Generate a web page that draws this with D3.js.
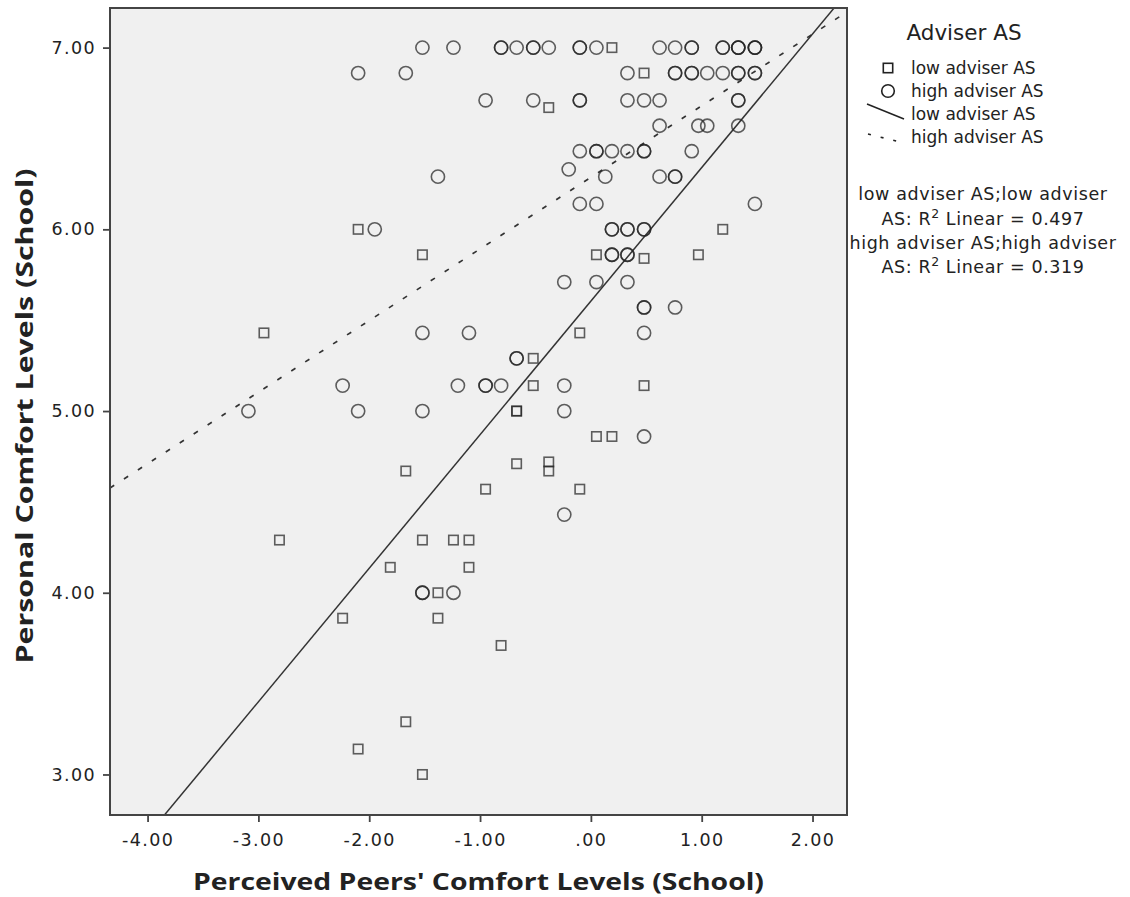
<!DOCTYPE html>
<html>
<head>
<meta charset="utf-8">
<script src="https://cdn.jsdelivr.net/npm/d3@7/dist/d3.min.js"></script>
<style>
  html, body { margin: 0; padding: 0; background: #ffffff; }
  svg { display: block; }
  text { font-family: "DejaVu Sans", Verdana, sans-serif; fill: #222; }
</style>
</head>
<body>
<svg id="chart" width="1130" height="897"></svg>
<script>
// Axis ticks and labels
const xTicks = [-4, -3, -2, -1, 0, 1, 2];
const xTickLabels = ["-4.00", "-3.00", "-2.00", "-1.00", ".00", "1.00", "2.00"];
const yTicks = [3, 4, 5, 6, 7];
const yTickLabels = ["3.00", "4.00", "5.00", "6.00", "7.00"];

// Group names
const groups = ["low adviser AS", "high adviser AS"];

// Low adviser AS observations (peers' comfort, personal comfort)
const lowX = [0.19, 0.48, -0.38, -2.10, 1.19, -1.52, 0.05, 0.48, 0.97, -2.95,
  -0.10, -0.52, -0.52, 0.48, -0.67, -0.67, 0.05, 0.19, -0.67, -0.38,
  -0.38, -1.67, -0.95, -0.10, -2.81, -1.52, -1.24, -1.10, -1.81, -1.10,
  -1.38, -2.24, -1.38, -0.81, -1.67, -2.10, -1.52];
const lowY = [7.00, 6.86, 6.67, 6.00, 6.00, 5.86, 5.86, 5.84, 5.86, 5.43,
  5.43, 5.29, 5.14, 5.14, 5.00, 5.00, 4.86, 4.86, 4.71, 4.72,
  4.67, 4.67, 4.57, 4.57, 4.29, 4.29, 4.29, 4.29, 4.14, 4.14,
  4.00, 3.86, 3.86, 3.71, 3.29, 3.14, 3.00];

// High adviser AS observations
const highX = [
  -1.52, -1.24, -0.81, -0.81, -0.67, -0.52, -0.52, -0.38, -0.10, -0.10, 0.05, 0.62, 0.76, 0.91, 0.91, 1.19, 1.19, 1.33, 1.33, 1.33, 1.48, 1.48, 1.48,
  -2.10, -1.67, 0.33, 0.76, 0.76, 0.91, 0.91, 1.05, 1.19, 1.33, 1.33, 1.48, 1.48,
  -0.95, -0.52, -0.10, -0.10, 0.33, 0.48, 0.62, 1.33, 1.33,
  0.62, 0.97, 1.05, 1.33,
  -0.10, 0.05, 0.05, 0.19, 0.33, 0.48, 0.48, 0.91,
  -0.20,
  -1.38, 0.13, 0.62, 0.76, 0.76,
  -0.10, 0.05, 1.48,
  -1.95, 0.19, 0.19, 0.33, 0.33, 0.48, 0.48,
  0.19, 0.19, 0.33, 0.33,
  -0.24, 0.05, 0.33,
  0.48, 0.48, 0.76,
  -1.52, -1.10, 0.48,
  -0.67, -0.67,
  -2.24, -1.20, -0.95, -0.95, -0.81, -0.24,
  -3.09, -2.10, -1.52, -0.24,
  0.48,
  -0.24,
  -1.52, -1.52, -1.24];
const highY = [
  7.00, 7.00, 7.00, 7.00, 7.00, 7.00, 7.00, 7.00, 7.00, 7.00, 7.00, 7.00, 7.00, 7.00, 7.00, 7.00, 7.00, 7.00, 7.00, 7.00, 7.00, 7.00, 7.00,
  6.86, 6.86, 6.86, 6.86, 6.86, 6.86, 6.86, 6.86, 6.86, 6.86, 6.86, 6.86, 6.86,
  6.71, 6.71, 6.71, 6.71, 6.71, 6.71, 6.71, 6.71, 6.71,
  6.57, 6.57, 6.57, 6.57,
  6.43, 6.43, 6.43, 6.43, 6.43, 6.43, 6.43, 6.43,
  6.33,
  6.29, 6.29, 6.29, 6.29, 6.29,
  6.14, 6.14, 6.14,
  6.00, 6.00, 6.00, 6.00, 6.00, 6.00, 6.00,
  5.86, 5.86, 5.86, 5.86,
  5.71, 5.71, 5.71,
  5.57, 5.57, 5.57,
  5.43, 5.43, 5.43,
  5.29, 5.29,
  5.14, 5.14, 5.14, 5.14, 5.14, 5.14,
  5.00, 5.00, 5.00, 5.00,
  4.86,
  4.43,
  4.00, 4.00, 4.00];

// Linear fits per group: intercept, slope, R squared
const fitIntercepts = [5.605, 6.286];
const fitSlopes = [0.735, 0.394];
const fitR2 = [0.497, 0.319];

const svg = d3.select("#chart");

const plot = { left: 110, right: 847, top: 8, bottom: 815 };

const x = d3.scaleLinear().domain([-4.339, 2.311]).range([plot.left, plot.right]);
const y = d3.scaleLinear().domain([2.777, 7.218]).range([plot.bottom, plot.top]);

// Plot background
svg.append("rect")
  .attr("x", plot.left).attr("y", plot.top)
  .attr("width", plot.right - plot.left).attr("height", plot.bottom - plot.top)
  .attr("fill", "#f0f0f0");

svg.append("clipPath").attr("id", "plotClip")
  .append("rect")
  .attr("x", plot.left).attr("y", plot.top)
  .attr("width", plot.right - plot.left).attr("height", plot.bottom - plot.top);

// Axes
const xAxis = d3.axisBottom(x)
  .tickValues(xTicks)
  .tickFormat((d, i) => xTickLabels[i])
  .tickSize(7).tickSizeOuter(0).tickPadding(12);
const yAxis = d3.axisLeft(y)
  .tickValues(yTicks)
  .tickFormat((d, i) => yTickLabels[i])
  .tickSize(7).tickSizeOuter(0).tickPadding(7);

const gx = svg.append("g").attr("transform", `translate(0,${plot.bottom})`).call(xAxis);
const gy = svg.append("g").attr("transform", `translate(${plot.left},0)`).call(yAxis);
[gx, gy].forEach(g => {
  g.select(".domain").remove();
  g.selectAll(".tick line").attr("stroke", "#444").attr("stroke-width", 1.8);
  g.selectAll(".tick text")
    .style("font-family", '"DejaVu Sans", Verdana, sans-serif')
    .style("font-size", "17.5px")
    .style("letter-spacing", "1.4px")
    .attr("fill", "#2a2a2a");
});

// Fit lines
const fitG = svg.append("g").attr("clip-path", "url(#plotClip)");
const [x0, x1] = x.domain();
groups.forEach((g, i) => {
  const pts = [x0, x1].map(v => [x(v), y(fitIntercepts[i] + fitSlopes[i] * v)]);
  fitG.append("path")
    .attr("d", d3.line()(pts))
    .attr("fill", "none")
    .attr("stroke", "#333")
    .attr("stroke-width", i === 1 ? 1.7 : 1.5)
    .attr("stroke-dasharray", i === 1 ? "5,11.6" : null);
});

// Markers
const markG = svg.append("g").attr("clip-path", "url(#plotClip)");
const sq = 9.4;
markG.selectAll("rect.low")
  .data(lowX.map((v, i) => [v, lowY[i]]))
  .join("rect")
  .attr("class", "low")
  .attr("x", d => x(d[0]) - sq / 2)
  .attr("y", d => y(d[1]) - sq / 2)
  .attr("width", sq).attr("height", sq)
  .attr("fill", "none")
  .attr("stroke", "#222").attr("stroke-opacity", 0.72).attr("stroke-width", 1.6);

markG.selectAll("circle.high")
  .data(highX.map((v, i) => [v, highY[i]]))
  .join("circle")
  .attr("class", "high")
  .attr("cx", d => x(d[0]))
  .attr("cy", d => y(d[1]))
  .attr("r", 6.6)
  .attr("fill", "none")
  .attr("stroke", "#222").attr("stroke-opacity", 0.72).attr("stroke-width", 1.6);

// Plot frame
svg.append("rect")
  .attr("x", plot.left).attr("y", plot.top)
  .attr("width", plot.right - plot.left).attr("height", plot.bottom - plot.top)
  .attr("fill", "none").attr("stroke", "#444").attr("stroke-width", 2);

// Axis titles
svg.append("text")
  .attr("x", (plot.left + plot.right) / 2).attr("y", 890)
  .attr("text-anchor", "middle")
  .style("font-family", '"Open Sans", sans-serif')
  .style("font-weight", "bold").style("font-size", "23px")
  .attr("textLength", 571).attr("lengthAdjust", "spacingAndGlyphs")
  .text("Perceived Peers' Comfort Levels (School)");

svg.append("text")
  .attr("transform", "translate(33,416) rotate(-90)")
  .attr("text-anchor", "middle")
  .style("font-family", '"Open Sans", sans-serif')
  .style("font-weight", "bold").style("font-size", "23px")
  .attr("textLength", 495).attr("lengthAdjust", "spacingAndGlyphs")
  .text("Personal Comfort Levels (School)");

// Legend
const leg = svg.append("g");
leg.append("text")
  .attr("x", 964).attr("y", 40)
  .attr("text-anchor", "middle")
  .style("font-size", "21.5px")
  .text("Adviser AS");

const rowY = [68, 91, 114, 137];
const legLabels = [groups[0], groups[1], groups[0], groups[1]];
leg.append("rect")
  .attr("x", 888 - sq / 2).attr("y", rowY[0] - sq / 2)
  .attr("width", sq).attr("height", sq)
  .attr("fill", "none").attr("stroke", "#222").attr("stroke-width", 1.6);
leg.append("circle")
  .attr("cx", 888).attr("cy", rowY[1]).attr("r", 6.3)
  .attr("fill", "none").attr("stroke", "#222").attr("stroke-width", 1.6);
leg.append("line")
  .attr("x1", 867).attr("y1", rowY[2] - 10).attr("x2", 904).attr("y2", rowY[2] + 5)
  .attr("stroke", "#222").attr("stroke-width", 1.5);
leg.append("line")
  .attr("x1", 868).attr("y1", rowY[3] - 3).attr("x2", 904).attr("y2", rowY[3] + 6)
  .attr("stroke", "#222").attr("stroke-width", 1.6).attr("stroke-dasharray", "3,10");
leg.selectAll("text.item")
  .data(legLabels)
  .join("text")
  .attr("class", "item")
  .attr("x", 911)
  .attr("y", (d, i) => rowY[i] + 6)
  .style("font-size", "17px")
  .text(d => d);

// R squared notes
const noteLines = [
  { t: "low adviser AS;low adviser", r2: null },
  { t: "AS: R", r2: fitR2[0] },
  { t: "high adviser AS;high adviser", r2: null },
  { t: "AS: R", r2: fitR2[1] }
];
const noteY = [200, 225, 249, 273];
noteLines.forEach((n, i) => {
  const t = leg.append("text")
    .attr("x", 983).attr("y", noteY[i])
    .attr("text-anchor", "middle")
    .style("font-size", "17.5px")
    .style("letter-spacing", "0.6px");
  if (n.r2 === null) {
    t.text(n.t);
  } else {
    t.append("tspan").text(n.t);
    t.append("tspan").attr("dy", -7).style("font-size", "12.5px").text("2");
    t.append("tspan").attr("dy", 7).text(` Linear = ${n.r2.toFixed(3)}`);
  }
});
</script>
</body>
</html>
